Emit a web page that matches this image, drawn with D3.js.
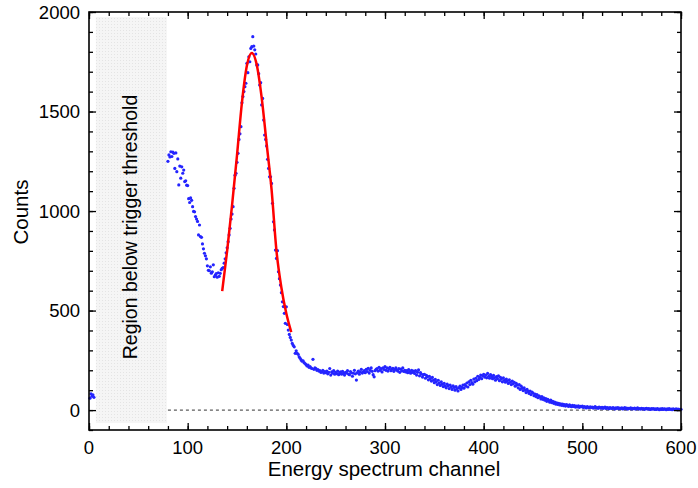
<!DOCTYPE html>
<html>
<head>
<meta charset="utf-8">
<script src="https://cdn.jsdelivr.net/npm/d3@7"></script>
<style>
  body { margin: 0; background: #fff; }
  text { font-family: "Liberation Sans", Arial, sans-serif; fill: #000; }
</style>
</head>
<body>
<div id="chart"></div>
<script>
// spectrum data, one point per channel
let lowChannels = [1, 2, 3, 4, 5];
let lowCounts = [60, 82, 70, 76, 64];

let startChannel = 80;
let counts = [
  1250, 1282, 1272, 1298, 1274, 1296, 1290, 1214, 1292, 1198,
  1262, 1131, 1226, 1165, 1222, 1190, 1206, 1148, 1152, 1130,
  1128, 1062, 1043, 1066, 1054, 1022, 998, 996, 972, 960,
  948, 880, 930, 872, 868, 835, 810, 788, 775, 760,
  725, 702, 700, 720, 688, 695, 730, 670, 678, 686,
  668, 690, 672, 687, 705, 712, 716, 738, 760, 790,
  815, 846, 880, 913, 960, 985, 1022, 1114, 1180, 1190,
  1245, 1290, 1360, 1388, 1424, 1544, 1575, 1600, 1625, 1642,
  1742, 1695, 1775, 1750, 1817, 1826, 1876, 1829, 1810, 1789,
  1734, 1734, 1690, 1633, 1645, 1533, 1566, 1457, 1382, 1360,
  1327, 1260, 1214, 1172, 1172, 1139, 1039, 946, 905, 804,
  762, 801, 695, 660, 628, 590, 544, 520, 486, 436,
  519, 430, 402, 380, 365, 352, 335, 325, 318, 285,
  298, 285, 280, 268, 260, 252, 246, 248, 238, 234,
  228, 222, 226, 215, 218, 212, 209, 255, 205, 212,
  209, 200, 204, 196, 199, 190, 192, 200, 186, 194,
  188, 196, 182, 190, 209, 176, 192, 185, 198, 180,
  190, 183, 196, 178, 188, 192, 180, 195, 184, 176,
  190, 186, 198, 181, 178, 194, 187, 170, 185, 200,
  182, 151, 188, 196, 180, 192, 205, 186, 192, 198,
  188, 205, 194, 210, 186, 200, 212, 195, 178, 167,
  198, 205, 209, 196, 215, 200, 208, 192, 212, 204,
  218, 200, 212, 196, 208, 215, 198, 205, 210, 195,
  204, 212, 201, 196, 208, 190, 206, 198, 212, 194,
  200, 192, 198, 188, 204, 194, 185, 200, 190, 196,
  184, 198, 176, 190, 202, 172, 188, 180, 166, 178,
  180, 160, 174, 168, 152, 170, 158, 146, 164, 150,
  138, 154, 142, 128, 150, 136, 124, 142, 130, 118,
  134, 120, 112, 130, 122, 108, 126, 116, 104, 122,
  114, 100, 118, 108, 96, 112, 120, 104, 114, 126,
  110, 128, 120, 136, 116, 142, 128, 150, 138, 130,
  156, 142, 160, 148, 170, 154, 164, 176, 158, 172,
  180, 166, 176, 162, 184, 170, 160, 178, 168, 158,
  174, 162, 150, 168, 158, 172, 148, 164, 156, 142,
  162, 150, 140, 156, 146, 134, 152, 140, 128, 146,
  132, 140, 120, 134, 126, 112, 128, 104, 120, 110,
  98, 112, 100, 88, 104, 94, 84, 96, 78, 90,
  86, 72, 80, 68, 78, 62, 72, 66, 56, 68,
  54, 62, 50, 58, 44, 54, 48, 40, 50, 38,
  44, 34, 40, 30, 37, 28, 34, 26, 32, 24,
  30, 22, 28, 20, 27, 24, 18, 26, 21, 17,
  24, 18, 22, 15, 20, 16, 21, 14, 19, 17,
  20, 13, 17, 15, 11, 18, 14, 12, 16, 13,
  15, 10, 14, 17, 11, 13, 9, 15, 12, 10,
  14, 9, 12, 15, 8, 13, 11, 7, 12, 10,
  8, 12, 10, 6, 11, 9, 13, 7, 10, 8,
  11, 6, 9, 12, 7, 10, 5, 9, 8, 11,
  6, 9, 7, 10, 5, 8, 11, 6, 8, 5,
  9, 6, 8, 4, 7, 9, 5, 8, 6, 3,
  7, 5, 8, 4, 6, 3, 7, 5, 2, 6,
  4, 7, 3, 6, 5, 2, 6, 4, 7, 3,
  5, 2, 6, 4, 3, 6, 2, 5, 3, 4,
  4
];

// gaussian fit over the photopeak
let fitChannels = [135, 140, 145, 150, 155, 160, 165, 170, 175, 180, 185, 190, 195, 200, 205];
let fitCounts = [598, 800, 1030, 1280, 1545, 1730, 1794, 1735, 1570, 1340, 1110, 800, 615, 485, 392];

// shaded threshold region and baseline
let thresholdRegion = [7, 79];
let regionCounts = [-65, 1975];
let baselineRange = [80, 600];

let xTicks = [0, 100, 200, 300, 400, 500, 600];
let yTicks = [0, 500, 1000, 1500, 2000];

let width = 698, height = 488;
let margin = {top: 12, right: 17, bottom: 58, left: 89};

let svg = d3.select("#chart")
  .append("svg")
  .attr("width", width)
  .attr("height", height);

let defs = svg.append("defs");
let pat = defs.append("pattern")
  .attr("id", "dots")
  .attr("width", 3)
  .attr("height", 3)
  .attr("patternUnits", "userSpaceOnUse");
pat.append("rect").attr("width", 3).attr("height", 3).attr("fill", "#f5f5f5");
pat.append("rect").attr("width", 1).attr("height", 1).attr("fill", "#e4e4e4");

let x = d3.scaleLinear().domain([0, 600]).range([margin.left, width - margin.right]);
let y = d3.scaleLinear().domain([-100, 2000]).range([height - margin.bottom, margin.top]);

// region below trigger threshold
svg.append("rect")
  .attr("x", x(thresholdRegion[0]))
  .attr("y", y(regionCounts[1]))
  .attr("width", x(thresholdRegion[1]) - x(thresholdRegion[0]))
  .attr("height", y(regionCounts[0]) - y(regionCounts[1]))
  .attr("fill", "url(#dots)");

svg.append("text")
  .attr("transform", "translate(" + (x((thresholdRegion[0] + thresholdRegion[1]) / 2) - 1) + ",227) rotate(-90)")
  .attr("text-anchor", "middle")
  .attr("dy", "0.35em")
  .style("font-size", "19.5px")
  .text("Region below trigger threshold");

// zero line
svg.append("line")
  .attr("x1", x(baselineRange[0]))
  .attr("x2", x(baselineRange[1]))
  .attr("y1", y(0))
  .attr("y2", y(0))
  .attr("stroke", "#333")
  .attr("stroke-width", 1)
  .attr("stroke-dasharray", "3,3");

// data points
let points = counts.map((c, i) => [startChannel + i, c]);
lowChannels.forEach((ch, i) => points.push([ch, lowCounts[i]]));

svg.append("g")
  .selectAll("circle")
  .data(points)
  .join("circle")
  .attr("cx", d => x(d[0]))
  .attr("cy", d => y(d[1]))
  .attr("r", 1.6)
  .attr("fill", "#2424ff");

// fit curve
let fitLine = d3.line()
  .x((d, i) => x(fitChannels[i]))
  .y(d => y(d))
  .curve(d3.curveMonotoneX);

svg.append("path")
  .datum(fitCounts)
  .attr("d", fitLine)
  .attr("fill", "none")
  .attr("stroke", "#ff0000")
  .attr("stroke-width", 2.5);

// axes with inward ticks on all four sides
let xMinor = d3.range(0, 601, 20);
let yMinor = d3.range(-100, 2001, 100);

function tickAxis(axis, scale, ticks, size) {
  return axis(scale).tickValues(ticks).tickSizeInner(size).tickSizeOuter(0).tickFormat("");
}

let bottomY = height - margin.bottom;
let rightX = width - margin.right;

svg.append("g").attr("transform", "translate(0," + bottomY + ")")
  .call(tickAxis(d3.axisTop, x, xMinor, 4));
svg.append("g").attr("transform", "translate(0," + bottomY + ")")
  .call(tickAxis(d3.axisTop, x, xTicks, 7));
svg.append("g").attr("transform", "translate(0," + margin.top + ")")
  .call(tickAxis(d3.axisBottom, x, xMinor, 4));
svg.append("g").attr("transform", "translate(0," + margin.top + ")")
  .call(tickAxis(d3.axisBottom, x, xTicks, 7));
svg.append("g").attr("transform", "translate(" + margin.left + ",0)")
  .call(tickAxis(d3.axisRight, y, yMinor, 4));
svg.append("g").attr("transform", "translate(" + margin.left + ",0)")
  .call(tickAxis(d3.axisRight, y, yTicks, 7));
svg.append("g").attr("transform", "translate(" + rightX + ",0)")
  .call(tickAxis(d3.axisLeft, y, yMinor, 4));
svg.append("g").attr("transform", "translate(" + rightX + ",0)")
  .call(tickAxis(d3.axisLeft, y, yTicks, 7));

svg.selectAll(".domain").remove();
svg.selectAll(".tick line").attr("stroke", "#000").attr("stroke-width", 1.3);

// frame
svg.append("rect")
  .attr("x", margin.left)
  .attr("y", margin.top)
  .attr("width", rightX - margin.left)
  .attr("height", bottomY - margin.top)
  .attr("fill", "none")
  .attr("stroke", "#000")
  .attr("stroke-width", 1.6);

// tick labels
svg.append("g")
  .selectAll("text")
  .data(xTicks)
  .join("text")
  .attr("x", d => x(d))
  .attr("y", bottomY + 24)
  .attr("text-anchor", "middle")
  .style("font-size", "18.5px")
  .text(d => d);

svg.append("g")
  .selectAll("text")
  .data(yTicks)
  .join("text")
  .attr("x", margin.left - 9)
  .attr("y", d => y(d) + 6.5)
  .attr("text-anchor", "end")
  .style("font-size", "18.5px")
  .text(d => d);

// axis titles
svg.append("text")
  .attr("x", 384)
  .attr("y", height - 12)
  .attr("text-anchor", "middle")
  .style("font-size", "20.5px")
  .text("Energy spectrum channel");

svg.append("text")
  .attr("transform", "translate(28,212) rotate(-90)")
  .attr("text-anchor", "middle")
  .style("font-size", "20.5px")
  .text("Counts");
</script>
</body>
</html>
